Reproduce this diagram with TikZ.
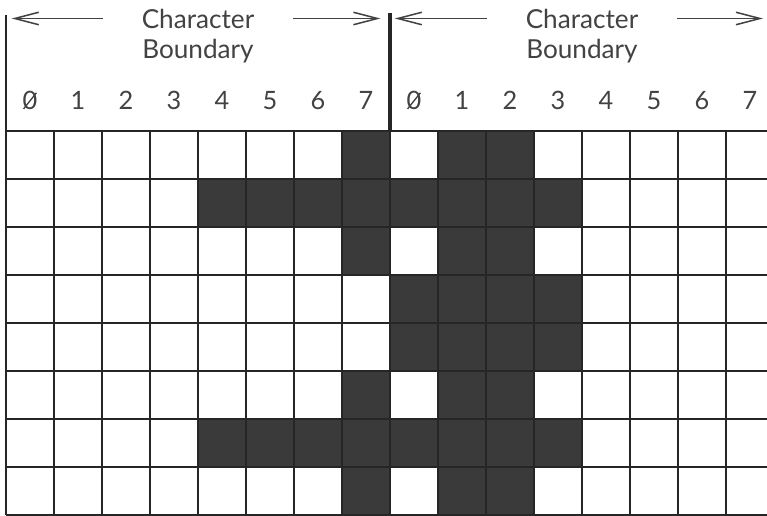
\documentclass[tikz,border=0pt]{standalone}
\usepackage{fontspec}
\setmainfont{Lato}
\usetikzlibrary{arrows.meta,positioning}
\definecolor{inkGray}{RGB}{58,58,58}
\definecolor{textGray}{RGB}{66,66,66}
\tikzset{
	pixel/.style={fill=inkGray, draw=none},
	gridline/.style={line width=1.1pt, draw=black!85},
	bound/.style={line width=1.2pt, draw=black!85},
	midbound/.style={line width=2pt, draw=black!85},
	hdr/.style={font=\fontsize{15.5}{18}\selectfont, text=textGray, inner sep=0pt, anchor=base},
	digit/.style={font=\fontsize{15}{18}\selectfont, text=textGray, inner sep=0pt, anchor=base},
	zslash/.style={line width=0.8pt, draw=textGray, shorten <=1.2pt, shorten >=1.2pt},
	barrow/.style={-{Straight Barb[length=5mm,width=2.6mm]}, line width=0.9pt, draw=textGray},
}

\begin{document}
\begin{tikzpicture}
	\useasboundingbox (-0.125,-0.02) rectangle (15.854,10.73);
	\clip (-0.125,-0.02) rectangle (15.854,10.73);
	
	% --- Lit pixels (row 0 is the top row) ---
	\foreach \r/\cols in {0/{7,9,10},1/{4,5,6,7,8,9,10,11},2/{7,9,10},3/{8,9,10,11},
		4/{8,9,10,11},5/{7,9,10},6/{4,5,6,7,8,9,10,11},7/{7,9,10}}
	\foreach \c in \cols
	\fill[pixel] (\c,7-\r) rectangle ++(1,1);
	
	% --- Grid ---
	\draw[gridline] (0,0) grid (16,8);
	
	% --- Boundary lines ---
	\draw[bound] (0,8) -- (0,10.42);
	\draw[midbound] (8,8) -- (8,10.45);
	\coordinate (lbound) at (0.12,8);
	\coordinate (mbl) at (7.8,8);
	\coordinate (mbr) at (8.1,8);
	\coordinate (rbound) at (15.77,8);
	
	% --- Labels ---
	\node[hdr] (lchar) at (4,10.146) {Character};
	\node[hdr] (lbnd) at (4,9.52) {Boundary};
	\node[hdr] (rchar) at (12,10.146) {Character};
	\node[hdr] (rbnd) at (12,9.52) {Boundary};
	
	\foreach \c in {0,...,7}{
		\node[digit] (dl\c) at (\c+0.5,8.44) {\c};
		\node[digit] (dr\c) at (\c+8.5,8.44) {\c};
	}
	% slashed zeros
	\draw[zslash] (dl0.south west) -- (dl0.north east);
	\draw[zslash] (dr0.south west) -- (dr0.north east);
	
	% --- Arrows ---
	\draw[barrow] ([xshift=-8mm]lchar.west) -- (lchar.west -| lbound);
	\draw[barrow] ([xshift=8mm]lchar.east) -- (lchar.east -| mbl);
	\draw[barrow] ([xshift=-8mm]rchar.west) -- (rchar.west -| mbr);
	\draw[barrow] ([xshift=8mm]rchar.east) -- (rchar.east -| rbound);
\end{tikzpicture}
\end{document}
